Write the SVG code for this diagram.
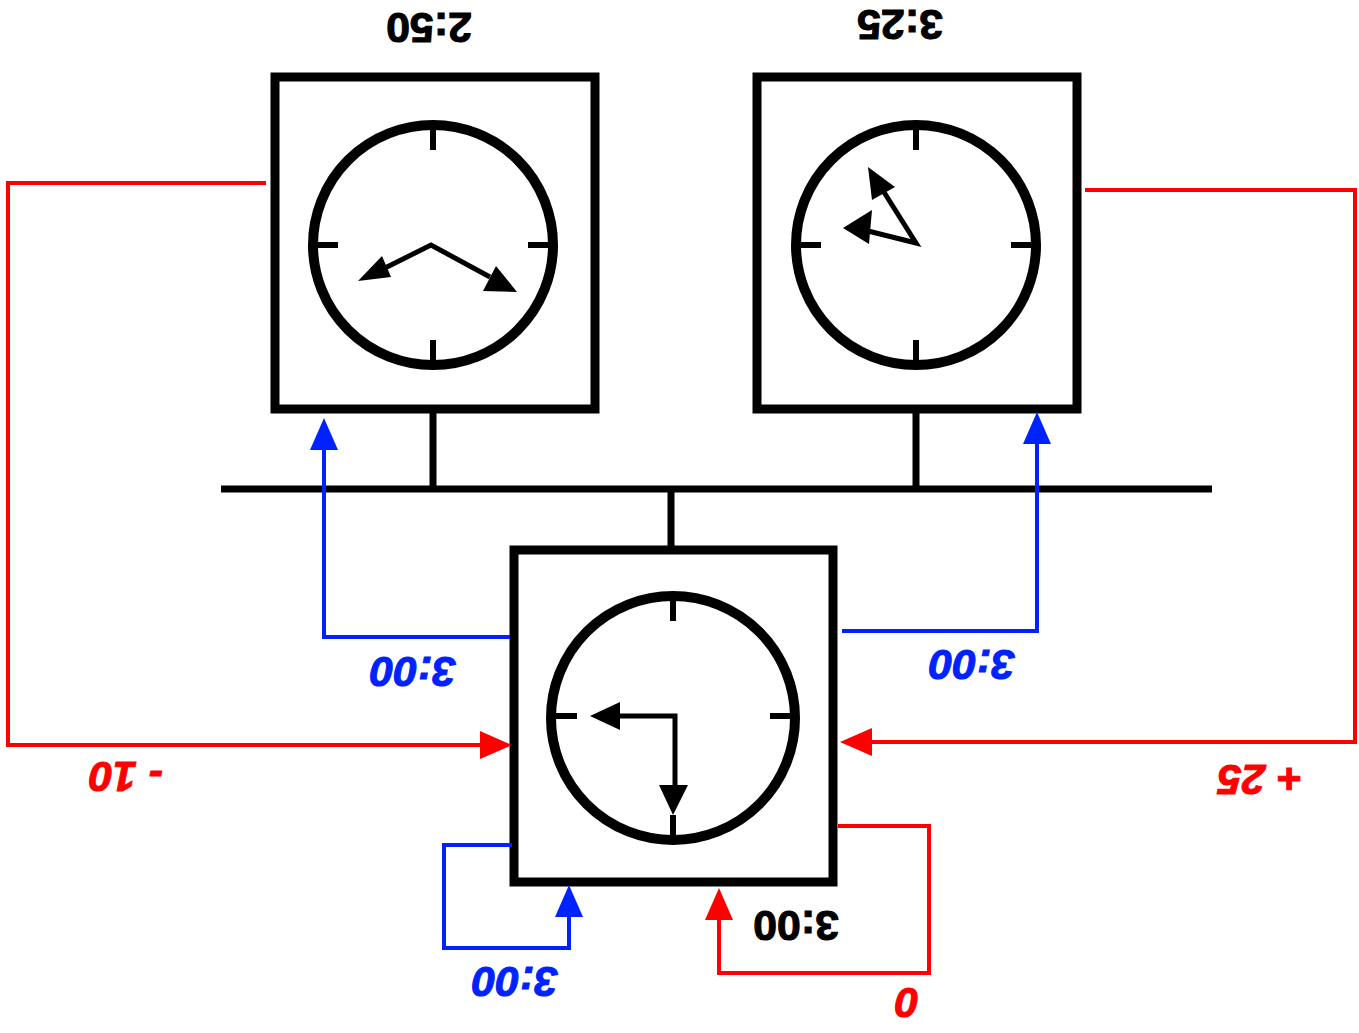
<svg xmlns="http://www.w3.org/2000/svg" width="1359" height="1033" viewBox="0 0 1359 1033">
<style>
.box{fill:none;stroke:#000;stroke-width:9}
.face{fill:none;stroke:#000;stroke-width:10}
.tick{stroke:#000;stroke-width:6}
.hand{stroke:#000;stroke-width:5;fill:none}
.bus{stroke:#000;stroke-width:7;fill:none}
.red{stroke:#ff0000;stroke-width:4;fill:none}
.blue{stroke:#0022ff;stroke-width:4;fill:none}
.t{font-family:"Liberation Sans",Arial,sans-serif;font-weight:bold;font-size:43px;text-anchor:middle;dominant-baseline:central;stroke-width:1}
.ti{font-style:italic}
</style>
<g id="bus">
<line class="bus" x1="221" y1="489" x2="1212" y2="489"/>
<line class="bus" x1="433" y1="409" x2="433" y2="489"/>
<line class="bus" x1="916" y1="409" x2="916" y2="489"/>
<line class="bus" x1="671" y1="489" x2="671" y2="550"/>
</g>
<g id="clock-a">
<rect class="box" x="275" y="77" width="320" height="332"/>
<circle class="face" cx="433" cy="245" r="120"/>
<line class="tick" x1="433" y1="125" x2="433" y2="150"/>
<line class="tick" x1="433" y1="340" x2="433" y2="365"/>
<line class="tick" x1="313" y1="245" x2="338" y2="245"/>
<line class="tick" x1="528" y1="245" x2="553" y2="245"/>
<polyline class="hand" points="385,268 431,245 490,277"/>
<polygon points="358,281 382,256 391,277" fill="#000"/>
<polygon points="517,292 483,291 496,266" fill="#000"/>
</g>
<g id="clock-b">
<rect class="box" x="757" y="77" width="320" height="332"/>
<circle class="face" cx="916" cy="245" r="120"/>
<line class="tick" x1="916" y1="125" x2="916" y2="150"/>
<line class="tick" x1="916" y1="340" x2="916" y2="365"/>
<line class="tick" x1="796" y1="245" x2="821" y2="245"/>
<line class="tick" x1="1011" y1="245" x2="1036" y2="245"/>
<polyline class="hand" points="868,231 916,243 882,189"/>
<polygon points="843,228 872,210 869,244" fill="#000"/>
<polygon points="868,167 895,187 872,200" fill="#000"/>
</g>
<g id="clock-c">
<rect class="box" x="514" y="550" width="319" height="332"/>
<circle class="face" cx="673" cy="718" r="122"/>
<line class="tick" x1="673" y1="596" x2="673" y2="621"/>
<line class="tick" x1="673" y1="815" x2="673" y2="840"/>
<line class="tick" x1="551" y1="716" x2="577" y2="716"/>
<line class="tick" x1="770" y1="716" x2="795" y2="716"/>
<polyline class="hand" points="615,716 675,716 675,790"/>
<polygon points="590,716 620,702 620,730" fill="#000"/>
<polygon points="673,815 659,785 688,785" fill="#000"/>
</g>
<g id="connectors">
<polyline class="red" points="266,183 8,183 8,745 484,745"/>
<polygon points="512,745 480,731 480,759" fill="#ff0000"/>
<polyline class="red" points="1085,190 1355,190 1355,742 868,742"/>
<polygon points="840,742 872,728 872,756" fill="#ff0000"/>
<polyline class="blue" points="510,637 324,637 324,446"/>
<polygon points="324,418 310,450 338,450" fill="#0022ff"/>
<polyline class="blue" points="842,631 1037,631 1037,440"/>
<polygon points="1037,412 1023,444 1051,444" fill="#0022ff"/>
<polyline class="blue" points="512,845 444,845 444,948 569,948 569,914"/>
<polygon points="569,885 555,917 583,917" fill="#0022ff"/>
<polyline class="red" points="838,826 929,826 929,973 719,973 719,917"/>
<polygon points="719,888 705,920 733,920" fill="#ff0000"/>
</g>
<g id="labels">
<text class="t" x="429" y="28" stroke="#000" transform="rotate(180 429 28)">2:50</text>
<text class="t" x="900" y="25" stroke="#000" transform="rotate(180 900 25)">3:25</text>
<text class="t" x="796" y="926" stroke="#000" transform="rotate(180 796 926)">3:00</text>
<text class="t ti" x="413" y="672" fill="#0022ff" stroke="#0022ff" transform="rotate(180 413 672)">3:00</text>
<text class="t ti" x="972" y="665" fill="#0022ff" stroke="#0022ff" transform="rotate(180 972 665)">3:00</text>
<text class="t ti" x="515" y="982" fill="#0022ff" stroke="#0022ff" transform="rotate(180 515 982)">3:00</text>
<text class="t ti" x="126" y="777" fill="#ff0000" stroke="#ff0000" transform="rotate(180 126 777)">- 10</text>
<text class="t ti" x="1260" y="780" fill="#ff0000" stroke="#ff0000" transform="rotate(180 1260 780)">+ 25</text>
<text class="t ti" x="907" y="1003" fill="#ff0000" stroke="#ff0000" transform="rotate(180 907 1003)">0</text>
</g>
</svg>
